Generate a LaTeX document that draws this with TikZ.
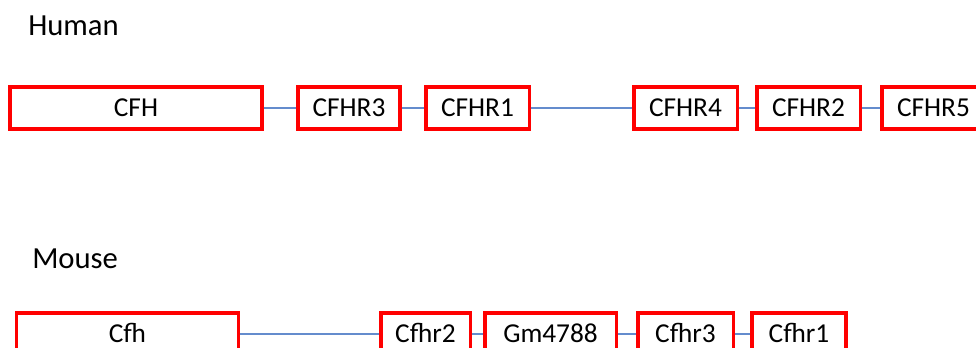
\documentclass[tikz,border=0pt]{standalone}
\usepackage{fontspec}
\setmainfont{Carlito}
\definecolor{genered}{RGB}{255,0,0}
\definecolor{linkblue}{RGB}{100,140,205}
\tikzset{
  gene/.style={draw=genered, line width=2.3pt, fill=white, rectangle,
    minimum height=31.5pt, inner sep=0pt, text height=13.2pt, text depth=0pt,
    font=\fontsize{20.5}{24}\selectfont},
  link/.style={draw=linkblue, line width=1.3pt},
  species/.style={anchor=base west, inner sep=0pt, font=\fontsize{23}{28}\selectfont}
}
\begin{document}
\begin{tikzpicture}[x=0.75pt, y=-0.75pt]
\useasboundingbox (0,0) rectangle (976,347);
% species labels
\node[species] (human) at (28,35) {Human};
\node[species] (mouse) at (32,268) {Mouse};
% human cluster
\node[gene, minimum width=189pt] (CFH)   at (136,108) {CFH};
\node[gene, minimum width=76.5pt] (CFHR3) at (349,108) {CFHR3};
\node[gene, minimum width=77.3pt] (CFHR1) at (477.5,108) {CFHR1};
\node[gene, minimum width=77.3pt] (CFHR4) at (685.5,108) {CFHR4};
\node[gene, minimum width=77.3pt] (CFHR2) at (808.5,108) {CFHR2};
\node[gene, minimum width=77.3pt] (CFHR5) at (933.5,108) {CFHR5};
\draw[link] (CFH) -- (CFHR3);
\draw[link] (CFHR3) -- (CFHR1);
\draw[link] (CFHR1) -- (CFHR4);
\draw[link] (CFHR4) -- (CFHR2);
\draw[link] (CFHR2) -- (CFHR5);
% mouse cluster
\node[gene, minimum width=167pt] (Cfh)    at (127.5,334) {Cfh};
\node[gene, minimum width=66.8pt] (Cfhr2)  at (425.5,334) {Cfhr2};
\node[gene, minimum width=98.3pt] (Gm4788) at (550.5,334) {Gm4788};
\node[gene, minimum width=71.3pt] (Cfhr3m) at (685.5,334) {Cfhr3};
\node[gene, minimum width=70.5pt] (Cfhr1m) at (799,334) {Cfhr1};
\draw[link] (Cfh) -- (Cfhr2);
\draw[link] (Cfhr2) -- (Gm4788);
\draw[link] (Gm4788) -- (Cfhr3m);
\draw[link] (Cfhr3m) -- (Cfhr1m);
\end{tikzpicture}
\end{document}
